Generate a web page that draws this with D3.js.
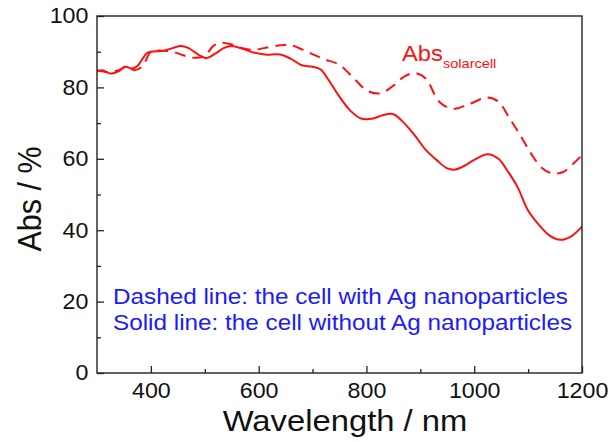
<!DOCTYPE html>
<html><head><meta charset="utf-8">
<script src="https://cdn.jsdelivr.net/npm/d3@7"></script>
<style>html,body{margin:0;padding:0;background:#fff;}svg{display:block;}</style>
</head><body>
<svg id="c" width="612" height="442"></svg>
<script>
// Data
const wlSolid = [300,310,325,340,352,365,375,392,400,420,440,455,470,490,503,520,535,550,570,590,612,640,660,680,700,715,730,750,770,790,810,830,850,870,890,910,930,950,965,985,1000,1025,1045,1060,1080,1100,1120,1140,1160,1180,1200];
const absSolid = [84.4,84.8,83.9,84.5,85.8,85.3,86,89.5,90,90.2,91,91.6,91,89,88.2,89.5,91,91.6,90.8,89.8,89.2,89.2,88,86.2,85.8,85,82,77.4,73.5,71.3,71.2,72.2,72.5,70,66.5,62.5,59.7,57.3,57,58.3,59.7,61.3,60,57,52.2,45.5,41.5,38.5,37.3,38.3,41];
const wlDashed = [300,320,340,355,370,385,400,420,440,460,480,500,515,530,550,570,590,610,640,660,690,720,750,780,800,825,850,870,890,910,935,960,990,1025,1045,1065,1085,1105,1125,1145,1165,1185,1200];
const absDashed = [84.8,84.3,84.8,85.8,84.8,86,90,90.3,90,89,88.3,88.8,91.5,92.5,92,91,90.5,91,91.8,91.8,90,88,86.3,82,79.2,78.3,80.5,83,84,82.5,76,74,75.3,77.2,76,71.5,66.7,61.6,57.5,55.9,56.3,58.8,61];
const xMajorTicks = [400,600,800,1000,1200];
const xMinorTicks = [500,700,900,1100];
const yMajorTicks = [0,20,40,60,80,100];
const yMinorTicks = [10,30,50,70,90];
const legendLines = ["Dashed line: the cell with Ag nanoparticles","Solid line: the cell without Ag nanoparticles"];

const SX = 1.08;
const svg = d3.select("#c");
const L = 97, R = 582, T = 16, B = 373;
const x = d3.scaleLinear().domain([300,1200]).range([L,R]);
const y = d3.scaleLinear().domain([0,100]).range([B,T]);
const font = "'Liberation Sans', Arial, sans-serif";
const axisColor = "#222";

function stretch(sel, s){ // horizontal stretch of text around its x position
  s = s || SX;
  sel.each(function(){
    const t = d3.select(this);
    const xx = +t.attr("x") || 0;
    t.attr("transform", `translate(${xx},0) scale(${s},1) translate(${-xx},0)`);
  });
}

// curves
const line = d3.line().x(d=>x(d[0])).y(d=>y(d[1])).curve(d3.curveCatmullRom.alpha(0.5));
const dashedData = wlDashed.map((w,i)=>[w,absDashed[i]]);
const solidData = wlSolid.map((w,i)=>[w,absSolid[i]]);
svg.append("defs").append("clipPath").attr("id","clip").append("rect").attr("x",L).attr("y",T).attr("width",R-L).attr("height",B-T);
const g = svg.append("g").attr("clip-path","url(#clip)");
g.append("path").datum(dashedData).attr("d",line).attr("fill","none").attr("stroke","#ff1010").attr("stroke-width",2).attr("stroke-dasharray","11,7");
g.append("path").datum(solidData).attr("d",line).attr("fill","none").attr("stroke","#ff1010").attr("stroke-width",2);

// frame
svg.append("rect").attr("x",L).attr("y",T).attr("width",R-L).attr("height",B-T).attr("fill","none").attr("stroke",axisColor).attr("stroke-width",1.4);

// x axis
const xAxis = svg.append("g").attr("transform",`translate(0,${B})`)
  .call(d3.axisBottom(x).tickValues(xMajorTicks).tickSize(-7).tickPadding(17).tickFormat(d3.format("d")));
xAxis.select(".domain").remove();
xAxis.selectAll("line").attr("stroke",axisColor).attr("stroke-width",1.3);
xAxis.selectAll("text").attr("font-family",font).attr("font-size",21.5).attr("fill","#111").attr("dy","0.71em").attr("y",10).attr("transform",`scale(${SX},1)`);
const xMin = svg.append("g").attr("transform",`translate(0,${B})`)
  .call(d3.axisBottom(x).tickValues(xMinorTicks).tickSize(-4).tickFormat(""));
xMin.select(".domain").remove();
xMin.selectAll("line").attr("stroke",axisColor).attr("stroke-width",1.3);

// y axis
const yAxis = svg.append("g").attr("transform",`translate(${L},0)`)
  .call(d3.axisLeft(y).tickValues(yMajorTicks).tickSize(-7).tickPadding(9).tickFormat(d3.format("d")));
yAxis.select(".domain").remove();
yAxis.selectAll("line").attr("stroke",axisColor).attr("stroke-width",1.3);
yAxis.selectAll("text").attr("font-family",font).attr("font-size",21.5).attr("fill","#111").attr("x",-8).attr("transform",`scale(${SX},1)`);
const yMin = svg.append("g").attr("transform",`translate(${L},0)`)
  .call(d3.axisLeft(y).tickValues(yMinorTicks).tickSize(-4).tickFormat(""));
yMin.select(".domain").remove();
yMin.selectAll("line").attr("stroke",axisColor).attr("stroke-width",1.3);

// axis titles
svg.append("text").attr("x",345).attr("y",431).attr("text-anchor","middle")
  .attr("font-family",font).attr("font-size",29).attr("fill","#111").text("Wavelength / nm").call(stretch, 1.13);
svg.append("text").attr("transform",`translate(41,199) scale(${SX},1) rotate(-90)`).attr("text-anchor","middle")
  .attr("font-family",font).attr("font-size",30.5).attr("fill","#111").text("Abs / %");

// annotation
const ann = svg.append("text").attr("x",402).attr("y",61).attr("font-family",font).attr("fill","#ff1010").attr("font-size",22);
ann.append("tspan").text("Abs");
ann.append("tspan").attr("font-size",13.5).attr("dy",7).text("solarcell");
ann.call(stretch);

// legend text
svg.selectAll("text.leg").data(legendLines).enter().append("text").attr("class","leg")
  .attr("x",113).attr("y",(d,i)=>304+i*26.5).attr("font-family",font).attr("font-size",22.5).attr("fill","#1a1aff")
  .text(d=>d).call(stretch);
</script>
</body></html>
